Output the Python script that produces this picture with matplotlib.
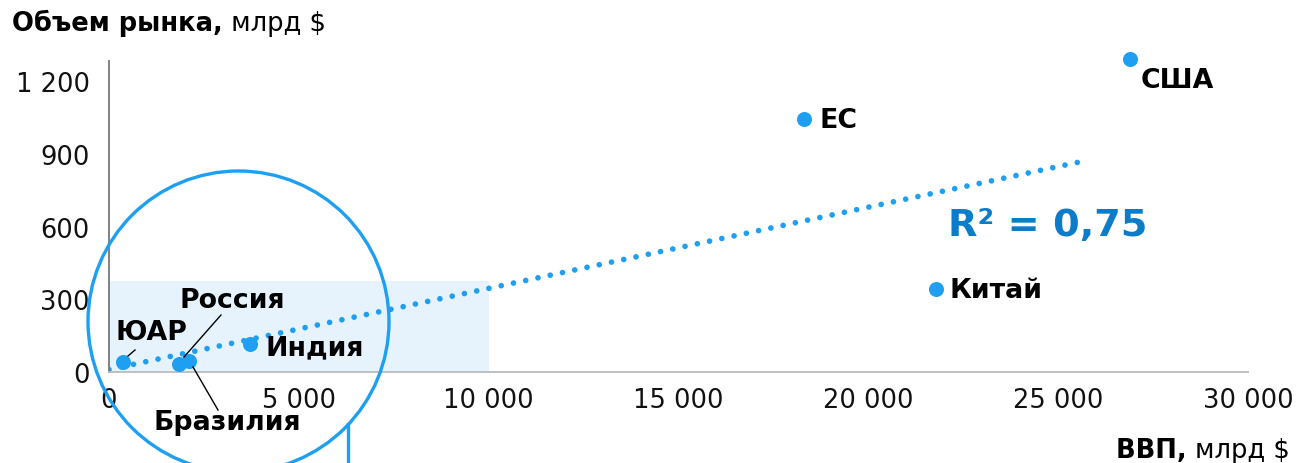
import matplotlib
matplotlib.use("Agg")
import matplotlib.pyplot as plt
from matplotlib.patches import Ellipse, Rectangle
from matplotlib.ticker import FuncFormatter

plt.rcParams['font.family'] = ['DejaVu Sans']

countries = ["США", "ЕС", "Китай", "Индия", "Россия", "Бразилия", "ЮАР"]
gdp = [26900, 18300, 21780, 3714, 1850, 2100, 369]
market = [1290, 1045, 342, 115, 33, 45, 41]

trend_x = [0, 25700]
trend_y = [10, 871]

x_ticks = [0, 5000, 10000, 15000, 20000, 25000, 30000]
y_ticks = [0, 300, 600, 900, 1200]

W, H = 1299, 464
fig = plt.figure(figsize=(W / 100, H / 100), dpi=100)
ax = fig.add_axes([109 / W, (H - 373) / H, (1248 - 109) / W, (373 - 62) / H])
ax.set_xlim(0, 30000)
ax.set_ylim(0, 1283)

blue = '#1E9FF2'
dark_blue = '#0A7CC9'
FS = 18.5
LFS = 19.3

# highlighted zone
ax.add_patch(Rectangle((0, 0), 10000, 375, facecolor='#E6F3FD', edgecolor='none', zorder=0))

ax.plot(trend_x, trend_y, color=blue, lw=4.1, linestyle=(0, (0.001, 2.2)),
        dash_capstyle='round', zorder=2)
ax.scatter(gdp, market, s=117, color=blue, zorder=3, linewidths=0, clip_on=False)

px = 1139 / 30000
py = 311 / 1283

def to_data(x, y):
    return ((x - 109) / px, (373 - y) / py)

label_pos = {
    "США": (1141, 81),
    "ЕС": (820, 121),
    "Китай": (950, 291),
    "Индия": (265, 348),
    "Россия": (180, 301),
    "Бразилия": (153, 423),
    "ЮАР": (115, 333),
}
for c in countries:
    tx, ty = to_data(*label_pos[c])
    ax.text(tx, ty, c, fontsize=LFS, fontweight='bold', ha='left', va='center',
            color='black', zorder=5, clip_on=False)

leaders = [((128, 357), (135, 351)), ((184, 358), (221, 316)), ((193, 368), (218, 411))]
for (a, b) in leaders:
    x0, y0 = to_data(*a)
    x1, y1 = to_data(*b)
    ax.plot([x0, x1], [y0, y1], color='black', lw=1, clip_on=False, zorder=4)

tx, ty = to_data(948, 226)
ax.text(tx, ty, "R² = 0,75", fontsize=27.5, fontweight='bold', color=dark_blue,
        ha='left', va='center')

for s in ['top', 'right']:
    ax.spines[s].set_visible(False)
ax.spines['left'].set_color('#777777')
ax.spines['bottom'].set_color('#bbbbbb')
ax.spines['left'].set_linewidth(1.3)
ax.spines['bottom'].set_linewidth(1.3)
ax.set_xticks(x_ticks)
ax.set_yticks(y_ticks)
fmt = FuncFormatter(lambda v, p: f"{int(v):,}".replace(",", " "))
ax.xaxis.set_major_formatter(fmt)
ax.yaxis.set_major_formatter(fmt)
ax.tick_params(length=0, labelsize=FS, colors='#111111')
ax.tick_params(axis='y', pad=14)
ax.tick_params(axis='x', pad=11)

# magnifier circle
fig.patches.append(Ellipse((238.5 / W, 1 - 322.5 / H), 301 / W, 301 / H,
                           transform=fig.transFigure, fill=False, edgecolor=blue, lw=2.4, zorder=6))
fig.add_artist(plt.Line2D([348 / W, 348 / W], [1 - 425 / H, 0], transform=fig.transFigure,
                          color=blue, lw=2.4))

t1 = fig.text(12 / W, 1 - 31 / H, "Объем рынка,", fontsize=FS, fontweight='bold',
              ha='left', va='baseline')
ax.annotate(" млрд $", xy=(1, 0), xycoords=t1, ha='left', va='bottom', fontsize=FS,
            annotation_clip=False)
t2 = fig.text(1290 / W, 1 - 458 / H, "млрд $", fontsize=FS, ha='right', va='baseline')
ax.annotate("ВВП, ", xy=(0, 0), xycoords=t2, ha='right', va='bottom', fontsize=FS,
            fontweight='bold', annotation_clip=False)

fig.savefig("out.png", dpi=100)
